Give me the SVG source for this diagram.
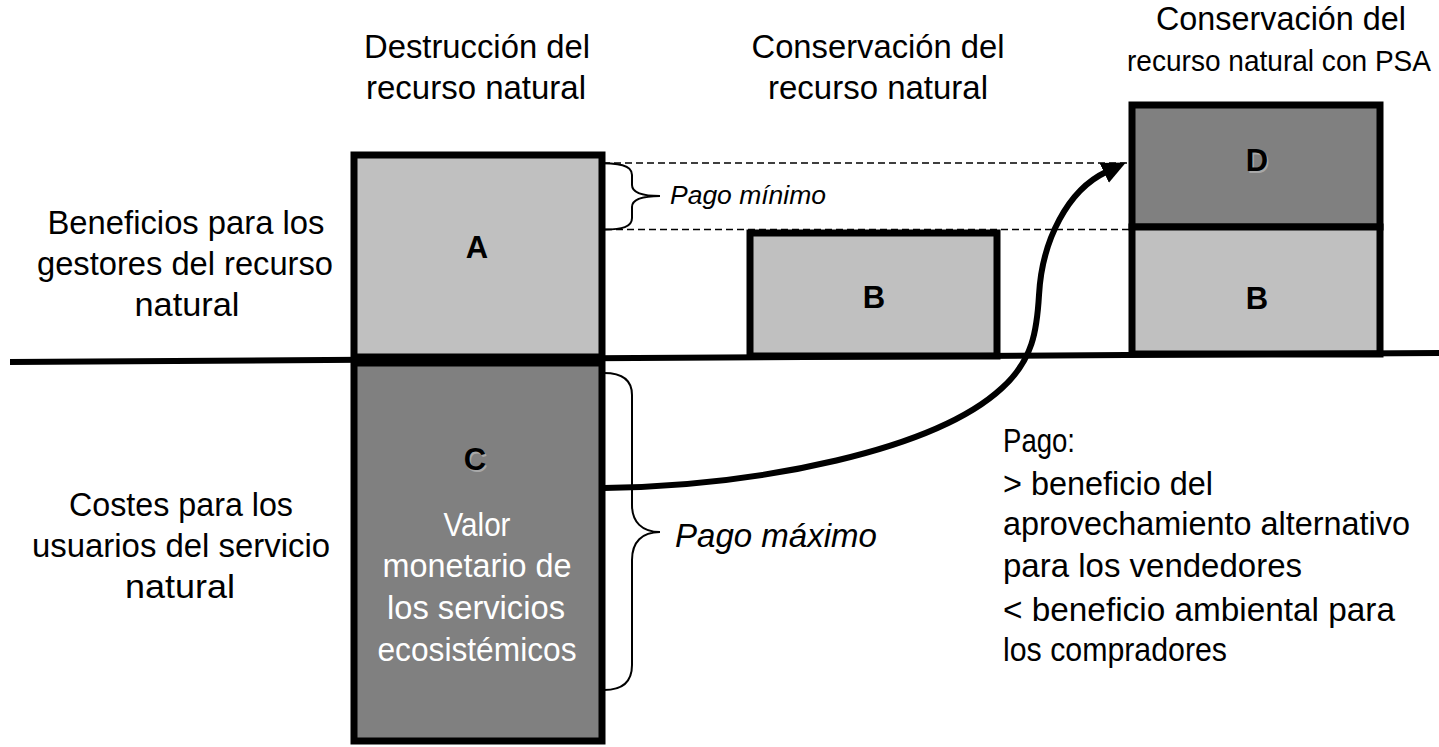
<svg xmlns="http://www.w3.org/2000/svg" width="1439" height="747" viewBox="0 0 1439 747">
<style>
  .lbl { font-family: "Liberation Sans", Arial, sans-serif; font-size: 34px; fill: #000; }
  .lbl.small { font-size: 29px; }
  .mid { text-anchor: middle; }
  .white { fill: #fff; }
  .letter { font-family: "Liberation Sans", Arial, sans-serif; font-size: 31px; font-weight: bold; text-anchor: middle; fill: #000; }
  .shadow { fill: #a8a8a8; }
  .it { font-family: "Liberation Sans", Arial, sans-serif; font-style: italic; fill: #000; }
  .box { stroke: #000; stroke-width: 7; }
  .light { fill: #c0c0c0; }
  .dark { fill: #808080; }
  .dash { stroke: #000; stroke-width: 1.5; stroke-dasharray: 7,4; fill: none; }
  .brace { stroke: #000; stroke-width: 2; fill: none; }
</style>
<defs>
  <marker id="arrow" viewBox="0 0 24 22" refX="2" refY="11" markerWidth="24" markerHeight="22" markerUnits="userSpaceOnUse" orient="auto">
    <path d="M0,0 L24,11 L0,22 z" fill="#000"/>
  </marker>
</defs>
<rect width="1439" height="747" fill="#fff"/>

<g id="labels">
  <text class="lbl mid" x="477" y="58" textLength="226" lengthAdjust="spacingAndGlyphs">Destrucción del</text>
  <text class="lbl mid" x="476" y="99" textLength="220" lengthAdjust="spacingAndGlyphs">recurso natural</text>
  <text class="lbl mid" x="878" y="58" textLength="253" lengthAdjust="spacingAndGlyphs">Conservación del</text>
  <text class="lbl mid" x="878" y="99" textLength="220" lengthAdjust="spacingAndGlyphs">recurso natural</text>
  <text class="lbl mid" x="1281" y="30" textLength="250" lengthAdjust="spacingAndGlyphs">Conservación del</text>
  <text class="lbl small mid" x="1279" y="71" textLength="304" lengthAdjust="spacingAndGlyphs">recurso natural con PSA</text>

  <text class="lbl mid" x="186" y="234" textLength="277" lengthAdjust="spacingAndGlyphs">Beneficios para los</text>
  <text class="lbl mid" x="185" y="275" textLength="296" lengthAdjust="spacingAndGlyphs">gestores del recurso</text>
  <text class="lbl mid" x="187" y="316" textLength="105" lengthAdjust="spacingAndGlyphs">natural</text>

  <text class="lbl mid" x="181" y="516" textLength="224" lengthAdjust="spacingAndGlyphs">Costes para los</text>
  <text class="lbl mid" x="181" y="557" textLength="298" lengthAdjust="spacingAndGlyphs">usuarios del servicio</text>
  <text class="lbl mid" x="180" y="598" textLength="110" lengthAdjust="spacingAndGlyphs">natural</text>

  <text class="lbl" x="1003" y="452" textLength="72" lengthAdjust="spacingAndGlyphs">Pago:</text>
  <text class="lbl" x="1003" y="495" textLength="210" lengthAdjust="spacingAndGlyphs">&gt; beneficio del</text>
  <text class="lbl" x="1003" y="535" textLength="407" lengthAdjust="spacingAndGlyphs">aprovechamiento alternativo</text>
  <text class="lbl" x="1003" y="577" textLength="299" lengthAdjust="spacingAndGlyphs">para los vendedores</text>
  <text class="lbl" x="1003" y="621" textLength="392" lengthAdjust="spacingAndGlyphs">&lt; beneficio ambiental para</text>
  <text class="lbl" x="1003" y="661" textLength="224" lengthAdjust="spacingAndGlyphs">los compradores</text>

  <text class="it" x="670" y="204" font-size="26" textLength="156" lengthAdjust="spacingAndGlyphs">Pago mínimo</text>
  <text class="it" x="675" y="547" font-size="33" textLength="202" lengthAdjust="spacingAndGlyphs">Pago máximo</text>
</g>

<g id="connectors">
  <line class="dash" x1="592" y1="163" x2="1130" y2="163"/>
  <line class="dash" x1="605" y1="229.5" x2="1130" y2="229.5"/>
  <path class="brace" d="M592,163 C620,163 632,165 632,175 L632,185 C632,192 642,196 660,196 C642,196 632,200 632,207 L632,218 C632,227 622,229.5 605,229.5"/>
  <path class="brace" d="M604,373 C622,373 632,380 632,395 L632,505 C632,522 642,532 660,532 C642,532 632,542 632,560 L632,665 C632,682 622,690 604,690"/>
</g>

<g id="node-A">
  <rect class="box light" x="354" y="155" width="248" height="202"/>
  <text class="letter" x="477" y="258">A</text>
</g>
<g id="node-C">
  <rect class="box dark" x="354" y="363" width="248" height="378"/>
  <text class="letter shadow" x="476.5" y="471.5">C</text>
  <text class="letter" x="475" y="470">C</text>
  <text class="lbl mid white" x="477" y="536" textLength="67" lengthAdjust="spacingAndGlyphs">Valor</text>
  <text class="lbl mid white" x="477" y="577" textLength="189" lengthAdjust="spacingAndGlyphs">monetario de</text>
  <text class="lbl mid white" x="476" y="619" textLength="178" lengthAdjust="spacingAndGlyphs">los servicios</text>
  <text class="lbl mid white" x="477" y="661" textLength="199" lengthAdjust="spacingAndGlyphs">ecosistémicos</text>
</g>
<g id="node-B">
  <rect class="box light" x="750" y="233" width="247" height="123"/>
  <text class="letter" x="874" y="308">B</text>
</g>
<g id="node-D">
  <rect class="box dark" x="1132" y="105" width="248" height="122"/>
  <text class="letter shadow" x="1258.5" y="172.5">D</text>
  <text class="letter" x="1257" y="171">D</text>
</g>
<g id="node-B2">
  <rect class="box light" x="1132" y="227" width="248" height="127"/>
  <text class="letter" x="1257" y="309">B</text>
</g>

<g id="axis-and-arrow">
  <line x1="10" y1="362" x2="1439" y2="353" stroke="#000" stroke-width="6"/>
  <path d="M604,488 C760,486 935,450 1002,388 C1033,360 1037,330 1039,295 C1042,240 1068,190 1106,172" stroke="#000" stroke-width="6" fill="none" marker-end="url(#arrow)"/>
</g>
</svg>
